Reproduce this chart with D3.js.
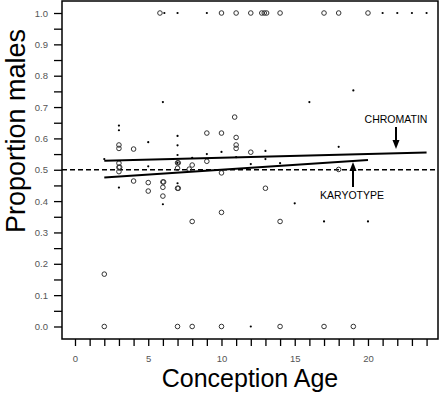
<!DOCTYPE html>
<html><head><meta charset="utf-8">
<script src="https://cdn.jsdelivr.net/npm/d3@7"></script>
<style>
body{margin:0;background:#fff;}
svg{display:block;font-family:"Liberation Sans",Arial,sans-serif;}
</style></head>
<body><svg id="c" width="440" height="395"></svg>
<script>
// Chromatin series (small filled dots)
const chromatinAge  = [6.1,7,9,21,22,23,24, 6,3,3,7,19,16, 5,7,7,9,10,11,2,8, 7,5,6,7,3, 13,13,14,18,15,17,20,12, 12];
const chromatinProp = [1,1,1,1,1,1,1, 0.716,0.641,0.626,0.608,0.753,0.716, 0.588,0.578,0.547,0.55,0.557,0.54,0.534,0.538, 0.522,0.511,0.39,0.457,0.443, 0.56,0.534,0.521,0.573,0.393,0.335,0.335,0, 0.518];
// Karyotype series (open circles)
const karyotypeAge  = [5.8,10,11,12,12.75,12.92,13.08,14,17,18,20,
  10.9,9,10,11,11,11, 3,3,4,12, 3,3,3.05,3, 7,7.05,7,8,7.8,9,10, 4,5,5,6,6.05,6,6,7,7.05, 10,8,13,14,18, 2, 2,7,8,10,14,17,19];
const karyotypeProp = [1,1,1,1,1,1,1,1,1,1,1,
  0.668,0.617,0.617,0.603,0.579,0.568, 0.579,0.568,0.566,0.556, 0.521,0.508,0.508,0.494, 0.522,0.522,0.505,0.515,0.502,0.527,0.490, 0.464,0.459,0.432,0.461,0.461,0.444,0.416,0.441,0.441, 0.364,0.335,0.441,0.335,0.501, 0.167, 0,0,0,0,0,0,0];
// Fitted lines [x0, y0, x1, y1]
const chromatinFit = [[2,0.529],[24,0.555]];
const karyotypeFit = [[2,0.475],[20,0.531]];
const yTicks = d3.range(0,21).map(i=>i*0.05);
const xTicks = d3.range(0,25);

const svg = d3.select("#c");
const x = d3.scaleLinear().domain([-0.887,24.78]).range([62,438]);
const y = d3.scaleLinear().domain([-0.0399,1.0383]).range([339,1]);

// frame
svg.append("rect").attr("x",62).attr("y",1).attr("width",376).attr("height",338)
  .attr("fill","none").attr("stroke","#000").attr("stroke-width",1.5);

// y axis
const ya = svg.append("g").attr("transform","translate(62,0)")
  .call(d3.axisLeft(y).tickValues(yTicks).tickSize(8).tickPadding(6)
    .tickFormat(d=>Math.round(d*20)%2===0?d.toFixed(1):""));
ya.select(".domain").remove();
ya.selectAll("line").attr("stroke","#000").attr("stroke-width",1.3);
ya.selectAll("text").attr("font-size",9.5).attr("fill","#555").attr("font-family","Liberation Sans, Arial, sans-serif");

// x axis
const xa = svg.append("g").attr("transform","translate(0,339)")
  .call(d3.axisBottom(x).tickValues(xTicks).tickSize(7).tickPadding(9)
    .tickFormat(d=>d%5===0?d:""));
xa.select(".domain").remove();
xa.selectAll("line").attr("stroke","#000").attr("stroke-width",1.3);
xa.selectAll("text").attr("font-size",9.5).attr("fill","#555").attr("font-family","Liberation Sans, Arial, sans-serif");

// dashed reference
svg.append("line").attr("x1",62).attr("x2",438).attr("y1",y(0.5)).attr("y2",y(0.5))
  .attr("stroke","#000").attr("stroke-width",1.5).attr("stroke-dasharray","5,3");

// points
svg.append("g").selectAll("circle").data(karyotypeAge.map((a,i)=>[a,karyotypeProp[i]])).join("circle")
  .attr("cx",d=>x(d[0])).attr("cy",d=>y(d[1])).attr("r",2.3)
  .attr("fill","none").attr("stroke","#333").attr("stroke-width",1);
svg.append("g").selectAll("circle").data(chromatinAge.map((a,i)=>[a,chromatinProp[i]])).join("circle")
  .attr("cx",d=>x(d[0])).attr("cy",d=>y(d[1])).attr("r",1.1).attr("fill","#000");

// fit lines
const line = d3.line().x(d=>x(d[0])).y(d=>y(d[1]));
svg.append("path").attr("d",line(chromatinFit)).attr("stroke","#000").attr("stroke-width",2).attr("fill","none");
svg.append("path").attr("d",line(karyotypeFit)).attr("stroke","#000").attr("stroke-width",2).attr("fill","none");

// annotations
function arrow(xp, yFrom, yTo){
  const dir = yTo>yFrom?1:-1;
  svg.append("line").attr("x1",xp).attr("x2",xp).attr("y1",yFrom).attr("y2",yTo-dir*6)
    .attr("stroke","#000").attr("stroke-width",2);
  svg.append("path").attr("d",`M${xp-3.5},${yTo-dir*9}L${xp+3.5},${yTo-dir*9}L${xp},${yTo}Z`).attr("fill","#000");
}
svg.append("text").attr("x",396).attr("y",123).attr("text-anchor","middle").attr("font-size",10.5).text("CHROMATIN");
arrow(396,127,149);
svg.append("text").attr("x",352).attr("y",199).attr("text-anchor","middle").attr("font-size",10.5).text("KARYOTYPE");
arrow(353,187,162);

// titles
svg.append("text").attr("x",250).attr("y",387).attr("text-anchor","middle").attr("font-size",25).text("Conception Age");
svg.append("text").attr("transform","translate(25,131) rotate(-90)").attr("text-anchor","middle").attr("font-size",27).text("Proportion males");
</script></body></html>
